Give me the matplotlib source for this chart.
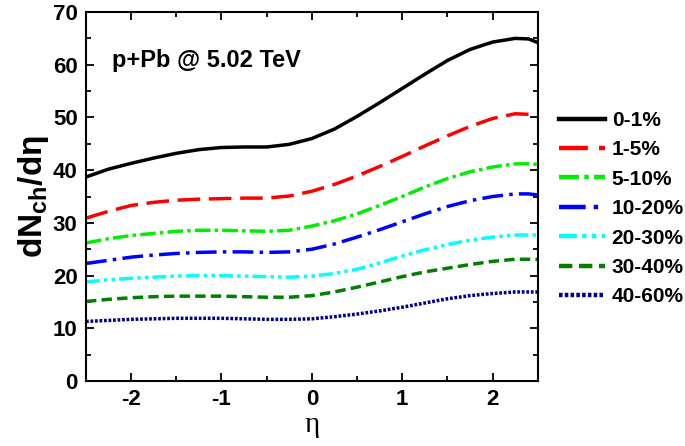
import matplotlib
matplotlib.use("Agg")
import matplotlib.pyplot as plt
from matplotlib.ticker import MultipleLocator

plt.rcParams['font.family'] = ['Liberation Sans', 'DejaVu Sans']
plt.rcParams['font.weight'] = 'bold'
plt.rcParams['axes.unicode_minus'] = False
plt.rcParams['mathtext.fontset'] = 'custom'
plt.rcParams['mathtext.rm'] = 'Liberation Sans'
plt.rcParams['mathtext.bf'] = 'Liberation Sans:bold'
plt.rcParams['mathtext.it'] = 'Liberation Sans:italic'

# pseudorapidity grid
eta = [-2.5, -2.25, -2.0, -1.75, -1.5, -1.25, -1.0, -0.75, -0.5, -0.25, 0.0,
       0.25, 0.5, 0.75, 1.0, 1.25, 1.5, 1.75, 2.0, 2.25, 2.4, 2.5]

# dNch/deta per centrality class
c0_1 = [38.7, 40.2, 41.3, 42.3, 43.2, 43.9, 44.3, 44.4, 44.4, 44.9, 46.0,
        47.8, 50.2, 52.8, 55.5, 58.2, 60.8, 62.9, 64.3, 65.0, 64.9, 64.2]
c1_5 = [30.9, 32.2, 33.3, 33.9, 34.3, 34.5, 34.6, 34.7, 34.7, 35.1, 36.0,
        37.3, 38.9, 40.7, 42.6, 44.6, 46.5, 48.3, 49.8, 50.7, 50.6, 50.1]
c5_10 = [26.2, 27.0, 27.6, 28.0, 28.4, 28.6, 28.6, 28.5, 28.4, 28.6, 29.4,
         30.4, 31.7, 33.3, 35.0, 36.8, 38.4, 39.7, 40.6, 41.2, 41.2, 41.1]
c10_20 = [22.3, 22.9, 23.5, 23.9, 24.2, 24.4, 24.5, 24.5, 24.4, 24.5, 25.0,
          26.0, 27.3, 28.7, 30.2, 31.7, 33.1, 34.2, 35.0, 35.5, 35.5, 35.3]
c20_30 = [18.8, 19.2, 19.5, 19.7, 19.9, 20.0, 20.0, 19.9, 19.8, 19.7, 19.9,
          20.4, 21.2, 22.4, 23.7, 24.9, 25.9, 26.7, 27.3, 27.7, 27.7, 27.7]
c30_40 = [15.1, 15.5, 15.8, 16.0, 16.1, 16.1, 16.1, 16.0, 15.9, 15.9, 16.2,
          16.9, 17.8, 18.8, 19.8, 20.7, 21.4, 22.1, 22.7, 23.1, 23.1, 23.1]
c40_60 = [11.3, 11.5, 11.7, 11.8, 11.9, 11.9, 11.9, 11.8, 11.7, 11.7, 11.8,
          12.2, 12.7, 13.3, 14.0, 14.8, 15.6, 16.2, 16.6, 16.9, 16.9, 16.9]

labels = ['0-1%', '1-5%', '5-10%', '10-20%', '20-30%', '30-40%', '40-60%']
series = [c0_1, c1_5, c5_10, c10_20, c20_30, c30_40, c40_60]
colors = ['black', '#ff0000', '#00ee00', '#0000ff', '#00ffff', '#007f00', '#00008b']
styles = ['-', (0, (6.5, 2.5)), (0, (4.5, 1.2, 1, 1.2)), (0, (6, 1.8, 1, 1.8)),
          (0, (4, 1.2, 1, 1.2, 1, 1.2)), (0, (3, 1.5)), (0, (0.8, 0.5))]

fig = plt.figure(figsize=(6.85, 4.46), dpi=100)
ax = fig.add_axes([0.1255, 0.1457, 0.6595, 0.8273])

for y, lab, col, ls in zip(series, labels, colors, styles):
    ax.plot(eta, y, color=col, linestyle=ls, linewidth=2.5, label=lab)

ax.set_xlim(-2.5, 2.5)
ax.set_ylim(0, 70)
ax.xaxis.set_major_locator(MultipleLocator(1))
ax.xaxis.set_minor_locator(MultipleLocator(0.5))
ax.yaxis.set_major_locator(MultipleLocator(10))
ax.yaxis.set_minor_locator(MultipleLocator(5))
ax.tick_params(which='both', direction='in', top=True, right=True,
               labelsize=16, width=1.3)
ax.tick_params(which='major', length=6, pad=6)
ax.tick_params(which='minor', length=3.5)
for t in ax.get_xticklabels() + ax.get_yticklabels():
    t.set_fontweight('bold')
for s in ax.spines.values():
    s.set_linewidth(1.5)

ax.set_xlabel('η', fontsize=21, fontweight='normal',
              family=['Liberation Serif', 'DejaVu Serif'], labelpad=1)
ax.set_ylabel(r'$\mathbf{dN_{ch}/d\eta}$', fontsize=24, labelpad=1)
ax.text(0.057, 0.87, 'p+Pb @ 5.02 TeV', transform=ax.transAxes,
        fontsize=17, fontweight='bold', va='center')

leg = ax.legend(loc='center left', bbox_to_anchor=(1.0, 0.467), frameon=False,
                prop={'size': 15, 'weight': 'bold'}, handlelength=2.25,
                handletextpad=0.3, labelspacing=0.5, borderaxespad=0.6)
for h in leg.get_lines():
    h.set_linewidth(3.2)

fig.savefig('out.png', dpi=100)
